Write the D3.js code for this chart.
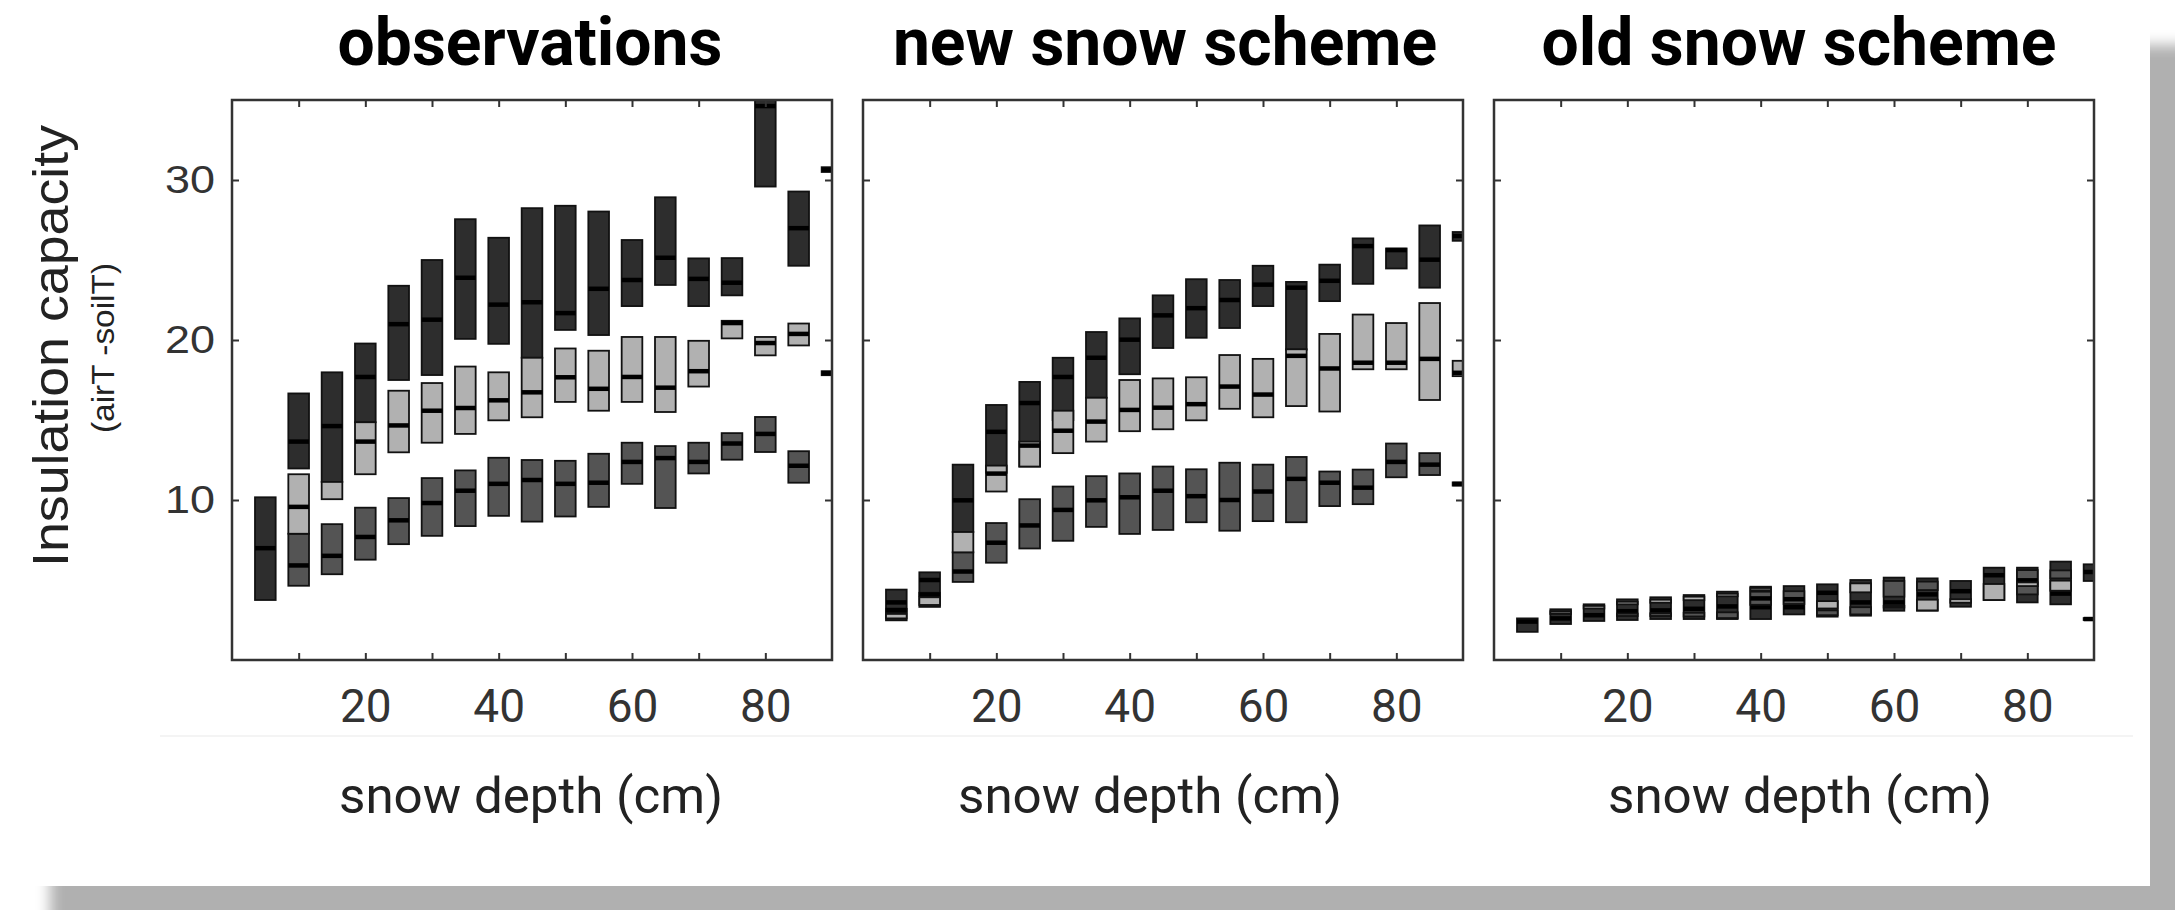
<!DOCTYPE html>
<html>
<head>
<meta charset="utf-8">
<script src="https://cdn.jsdelivr.net/npm/d3@7"></script>
<style>
  body { margin: 0; background: #fff; }
  svg { display: block; }
</style>
</head>
<body>
<script>
// snow depth classes (cm) and axis ticks
const depths = [5, 10, 15, 20, 25, 30, 35, 40, 45, 50, 55, 60, 65, 70, 75, 80, 85, 90];
const xTicks = [10, 20, 30, 40, 50, 60, 70, 80];
const xLabels = [20, 40, 60, 80];
const yTicks = [10, 20, 30];
const titles = ["observations", "new snow scheme", "old snow scheme"];

// boxes as [q1, median, q3] per depth, null where there is no box
const obsDark = [
  [3.75, 6.99, 10.17], [11.97, 13.65, 16.66], [11.13, 14.62, 17.98], [14.86, 17.69, 19.78],
  [17.5, 20.99, 23.39], [17.81, 21.27, 25.0], [20.07, 23.89, 27.55], [19.76, 22.21, 26.39],
  [18.89, 22.36, 28.24], [20.63, 21.68, 28.39], [20.31, 23.2, 28.03], [22.12, 23.75, 26.25],
  [23.44, 25.14, 28.92], [22.12, 23.82, 25.1], [22.79, 23.58, 25.12], [29.59, 34.62, 36],
  [24.64, 26.99, 29.28], [30.5, 30.65, 30.8]
];
const obsMid = [
  null, [4.64, 5.91, 7.89], [5.36, 6.51, 8.49], [6.27, 7.69, 9.52],
  [7.24, 8.73, 10.12], [7.76, 9.81, 11.37], [8.37, 10.58, 11.85], [9.01, 11.01, 12.64],
  [8.65, 11.25, 12.5], [8.97, 11.01, 12.45], [9.57, 11.08, 12.89], [11.01, 12.38, 13.58],
  [9.5, 12.62, 13.37], [11.66, 12.38, 13.58], [12.52, 13.53, 14.18], [13.0, 14.13, 15.19],
  [11.08, 12.14, 13.05], [17.8, 17.93, 18.05]
];
const obsLight = [
  null, [7.89, 9.57, 11.61], [10.05, null, 11.13], [11.61, 13.65, 14.86],
  [12.98, 14.66, 16.83], [13.58, 15.58, 17.31], [14.13, 15.75, 18.34], [14.98, 16.23, 17.98],
  [15.17, 16.73, 18.89], [16.13, 17.67, 19.47], [15.58, 16.95, 19.33], [16.13, 17.69, 20.19],
  [15.5, 17.02, 20.19], [17.09, 18.05, 19.95], [20.1, 21.06, 21.2], [19.04, 19.81, 20.19],
  [19.66, 20.38, 21.03], null
];

const newDark = [
  [2.48, 3.6, 4.4], [3.32, 5.0, 5.48], [8.0, 9.98, 12.21], [11.7, 14.26, 15.94],
  [12.09, 16.06, 17.38], [15.0, 17.69, 18.89], [16.39, 18.89, 20.5], [17.86, 20.02, 21.35],
  [19.5, 21.54, 22.79], [20.14, 21.99, 23.8], [20.75, 22.5, 23.75], [22.12, 23.46, 24.64],
  [19.4, 23.27, 23.63], [22.43, 23.7, 24.71], [23.51, 25.87, 26.35], [24.47, 25.62, 25.72],
  [23.27, 25.02, 27.16], [26.2, 26.5, 26.75]
];
const newMid = [
  [3.0, 3.12, 3.2], [4.0, 4.09, 4.2], [4.88, 5.53, 6.73], [6.08, 7.33, 8.56],
  [6.97, 8.41, 10.05], [7.45, 9.38, 10.84], [8.32, 9.98, 11.49], [7.88, 10.17, 11.66],
  [8.13, 10.58, 12.09], [8.61, 10.24, 11.92], [8.08, 10.0, 12.33], [8.68, 10.53, 12.21],
  [8.61, 11.32, 12.69], [9.62, 11.08, 11.78], [9.74, 10.77, 11.9], [11.42, 12.38, 13.53],
  [11.56, 12.21, 12.93], [10.9, 11.0, 11.1]
];
const newLight = [
  [2.6, null, 2.88], [3.44, null, 3.92], [6.73, null, 8.0], [10.53, 11.65, 12.15],
  [12.09, 13.4, 13.65], [12.93, 14.33, 15.58], [13.65, 14.9, 16.39], [14.3, 15.63, 17.5],
  [14.42, 15.77, 17.6], [14.98, 15.99, 17.67], [15.7, 17.09, 19.06], [15.17, 16.59, 18.82],
  [15.87, 19.01, 19.42], [15.53, 18.22, 20.38], [18.17, 18.58, 21.59], [18.17, 18.58, 21.06],
  [16.25, 18.82, 22.31], [17.74, 17.95, 18.7]
];

const oldDark = [
  [1.76, 2.4, 2.6], [2.25, 2.6, 3.17], [2.44, 2.8, 3.48], [2.5, 3.05, 3.79],
  [2.56, 3.1, 3.92], [2.56, 3.2, 4.06], [2.56, 3.35, 4.27], [2.56, 3.3, 4.58],
  [2.85, 3.3, 4.62], [2.71, 4.2, 4.73], [2.77, 3.6, 5.0], [3.08, 3.6, 5.15],
  [3.08, 4.1, 5.1], [3.33, 4.3, 4.94], [3.75, 5.3, 5.77], [3.6, 4.3, 5.77],
  [3.48, 4.15, 6.15], [4.94, 5.5, 5.98]
];
const oldMid = [
  null, [2.88, null, 3.05], null, [2.75, null, 2.9],
  [2.75, null, 2.92], [2.72, null, 2.95], [2.62, null, 2.98], [3.45, 3.85, 4.27],
  [3.5, 3.8, 4.3], [2.8, null, 3.1], [2.85, null, 3.3], [3.96, null, 4.94],
  [4.37, null, 4.9], null, null, [4.1, 4.98, 5.62],
  [5.1, null, 5.6], [2.5, 2.56, 2.62]
];
const oldLight = [
  null, null, [3.22, null, 3.38], [3.48, null, 3.64],
  [3.58, null, 3.77], [3.74, null, 3.96], [3.98, null, 4.14], [4.36, null, 4.5],
  null, [3.22, null, 3.68], [4.23, null, 4.79], [3.28, null, 3.38],
  [3.1, null, 3.77], [3.58, null, 3.8], [3.75, null, 4.75], [4.62, null, 4.85],
  [4.33, null, 4.96], null
];

const colors = { dark: "#2d2d2d", mid: "#545454", light: "#b1b1b1" };

// layout
const panelW = 600, panelH = 560, panelTop = 100;
const panels = [
  { left: 232, title: titles[0], titleDx: -2, labelDx: -1, series: [obsDark, obsMid, obsLight] },
  { left: 863, title: titles[1], titleDx: 2, labelDx: -13, series: [newDark, newMid, newLight] },
  { left: 1494, title: titles[2], titleDx: 5, labelDx: 6, series: [oldDark, oldMid, oldLight] }
];
const boxHalf = 1.55;

const svg = d3.select("body")
  .append("svg")
  .attr("width", 2175)
  .attr("height", 910);

const defs = svg.append("defs");
defs.append("filter")
  .attr("id", "blur")
  .append("feGaussianBlur")
  .attr("stdDeviation", 7);

// card with drop shadow
svg.append("rect")
  .attr("x", 50).attr("y", 45)
  .attr("width", 2180).attr("height", 920)
  .attr("fill", "#b0b0b0")
  .attr("filter", "url(#blur)");
svg.append("rect")
  .attr("x", 0).attr("y", 0)
  .attr("width", 2150).attr("height", 886)
  .attr("fill", "#fff");

svg.append("line")
  .attr("x1", 160).attr("x2", 2133)
  .attr("y1", 736).attr("y2", 736)
  .attr("stroke", "#f0f0f0")
  .attr("stroke-width", 1.5);

const x = d3.scaleLinear().domain([0, 90]).range([0, panelW]);
const y = d3.scaleLinear().domain([0, 35]).range([panelH, 0]);

panels.forEach((p, pi) => {
  const g = svg.append("g").attr("transform", `translate(${p.left},${panelTop})`);

  defs.append("clipPath").attr("id", "clip" + pi)
    .append("rect").attr("width", panelW).attr("height", panelH);

  const plot = g.append("g").attr("clip-path", `url(#clip${pi})`);

  const fills = [colors.dark, colors.mid, colors.light];
  p.series.forEach((s, si) => {
    const rows = depths.map((d, i) => ({ d, v: s[i] })).filter(e => e.v);

    plot.selectAll(".box" + si)
      .data(rows)
      .join("rect")
      .attr("class", "box" + si)
      .attr("x", e => x(e.d - boxHalf))
      .attr("width", e => x(e.d + boxHalf) - x(e.d - boxHalf))
      .attr("y", e => y(e.v[2]))
      .attr("height", e => y(e.v[0]) - y(e.v[2]))
      .attr("fill", fills[si])
      .attr("stroke", "#111")
      .attr("stroke-width", 1.8);

    plot.selectAll(".med" + si)
      .data(rows.filter(e => e.v[1] != null))
      .join("line")
      .attr("class", "med" + si)
      .attr("x1", e => x(e.d - boxHalf))
      .attr("x2", e => x(e.d + boxHalf))
      .attr("y1", e => y(e.v[1]))
      .attr("y2", e => y(e.v[1]))
      .attr("stroke", "#000")
      .attr("stroke-width", 4.5);
  });

  // inward ticks on all four sides
  const tickAxes = [
    [d3.axisBottom(x).tickValues(xTicks), `translate(0,${panelH})`],
    [d3.axisTop(x).tickValues(xTicks), "translate(0,0)"],
    [d3.axisLeft(y).tickValues(yTicks), "translate(0,0)"],
    [d3.axisRight(y).tickValues(yTicks), `translate(${panelW},0)`]
  ];
  tickAxes.forEach(([ax, tr]) => {
    const a = g.append("g").attr("transform", tr)
      .call(ax.tickSize(-7).tickFormat(""));
    a.select(".domain").remove();
    a.selectAll("line").attr("stroke", "#333").attr("stroke-width", 2);
  });

  g.append("rect")
    .attr("width", panelW).attr("height", panelH)
    .attr("fill", "none")
    .attr("stroke", "#333")
    .attr("stroke-width", 2.5);

  // tick labels below the panel
  const lab = g.append("g").attr("transform", `translate(0,${panelH})`)
    .call(d3.axisBottom(x).tickValues(xLabels).tickSize(0).tickPadding(29));
  lab.select(".domain").remove();
  lab.selectAll("text")
    .style("font-family", "Roboto, sans-serif")
    .style("font-size", "46px")
    .attr("fill", "#333");

  if (pi === 0) {
    const ylab = g.append("g")
      .call(d3.axisLeft(y).tickValues(yTicks).tickSize(0).tickPadding(17));
    ylab.select(".domain").remove();
    ylab.selectAll("text")
      .attr("textLength", 50)
      .attr("lengthAdjust", "spacingAndGlyphs")
      .style("font-family", "'Liberation Sans', Arial, sans-serif")
      .style("font-size", "38px")
      .attr("fill", "#333");
  }

  g.append("text")
    .attr("x", panelW / 2 + p.titleDx)
    .attr("y", -35)
    .attr("text-anchor", "middle")
    .style("font-family", "Roboto, sans-serif")
    .style("font-weight", "bold")
    .style("font-size", "66px")
    .attr("fill", "#000")
    .text(p.title);

  g.append("text")
    .attr("x", panelW / 2 + p.labelDx)
    .attr("y", 713)
    .attr("text-anchor", "middle")
    .attr("textLength", 384)
    .attr("lengthAdjust", "spacingAndGlyphs")
    .style("font-family", "Roboto, sans-serif")
    .style("font-size", "50px")
    .attr("fill", "#222")
    .text("snow depth (cm)");
});

// y axis title
svg.append("text")
  .attr("transform", "translate(68,346) rotate(-90)")
  .attr("text-anchor", "middle")
  .attr("textLength", 442)
  .attr("lengthAdjust", "spacingAndGlyphs")
  .style("font-family", "'Liberation Sans', Arial, sans-serif")
  .style("font-size", "50px")
  .attr("fill", "#222")
  .text("Insulation capacity");

svg.append("text")
  .attr("transform", "translate(114,348) rotate(-90)")
  .attr("text-anchor", "middle")
  .attr("textLength", 170)
  .attr("lengthAdjust", "spacingAndGlyphs")
  .style("font-family", "'Liberation Sans', Arial, sans-serif")
  .style("font-size", "32px")
  .attr("fill", "#222")
  .text("(airT -soilT)");
</script>
</body>
</html>
